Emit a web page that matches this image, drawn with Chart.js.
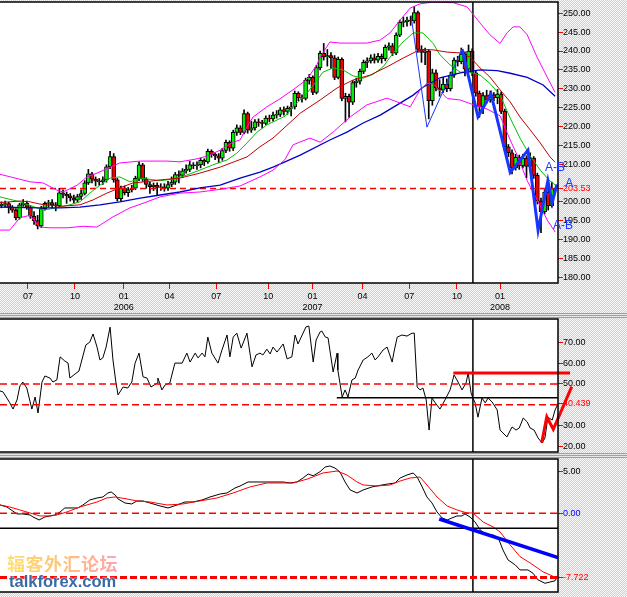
<!DOCTYPE html>
<html>
<head>
<meta charset="utf-8">
<script src="https://cdn.jsdelivr.net/npm/chart.js@4.4.1/dist/chart.umd.min.js"></script>
<style>
body{margin:0;width:627px;height:597px;overflow:hidden;position:relative;
  background-color:#eee;
  background-image:repeating-conic-gradient(#d0d0d0 0 25%,#f8f8f8 0 50%);
  background-size:2px 2px;}
canvas{position:absolute;left:0}
#c1{top:0}
#c2{top:317px}
#c3{top:457px}
.sep{position:absolute;left:0;width:627px;height:5px;
  background:repeating-linear-gradient(#a0a0a0 0 1px,#e6e6e6 1px 2px);}
.wm1{position:absolute;left:7px;top:554px;font:bold 18px "Noto Sans CJK SC";letter-spacing:0.5px;line-height:1;
  background:linear-gradient(90deg,#ffe070,#ffc27a 50%,#ffa2b0);-webkit-background-clip:text;background-clip:text;color:transparent;}
.wm2{position:absolute;left:9px;top:573px;font:bold 16.5px Arial;line-height:1;color:#3a6aa6;
  text-shadow:0 0 2px #fff,0 0 2px #fff;}
</style>
</head>
<body>
<canvas id="c1" width="627" height="313"></canvas>
<div class="sep" style="top:313px"></div>
<canvas id="c2" width="627" height="136"></canvas>
<div class="sep" style="top:453px"></div>
<canvas id="c3" width="627" height="137"></canvas>
<div class="wm1">辐客外汇论坛</div>
<div class="wm2">talkforex.com</div>
<script>
// weekly candles, index 0 = mid May 2005
const opens = [
199.0,199.3,199.5,198.6,197.8,195.8,199.2,199.6,198.6,196.2,
195.0,193.6,198.2,199.6,199.8,199.2,199.0,202.4,202.0,201.6,
201.0,200.4,201.4,202.2,205.0,207.4,206.0,205.5,205.3,205.8,
209.3,212.0,205.8,200.8,203.6,202.4,203.2,203.6,206.2,209.8,
206.0,204.6,204.0,204.4,203.8,204.0,203.6,204.6,205.2,207.2,
207.0,208.2,208.6,209.8,209.6,209.8,211.0,210.6,213.4,212.6,
212.2,211.6,213.6,215.8,214.2,218.4,219.6,218.4,223.4,219.0,
219.6,221.2,221.0,220.8,222.2,222.0,223.0,223.2,224.4,224.0,
224.8,225.2,228.8,227.6,227.4,232.2,233.0,229.0,235.6,239.4,
238.4,238.8,238.2,233.0,237.8,227.4,228.0,226.4,231.6,232.0,
234.6,237.0,237.4,238.2,237.6,238.6,238.0,241.0,241.4,239.4,
244.2,247.6,247.8,248.2,248.0,250.2,240.4,239.6,240.0,226.8,
234.2,230.2,229.6,231.2,230.0,233.6,237.6,237.2,239.2,235.2,
240.0,234.2,228.8,225.2,228.2,227.0,228.4,227.6,228.6,224.0,
214.6,213.0,209.0,211.8,209.6,211.6,209.4,211.6,207.0,200.2,
197.4,202.6,199.0];
const highs = [
200.0,200.2,199.9,199.0,198.2,199.6,200.6,200.2,199.0,197.4,
196.4,198.8,200.0,200.4,200.6,199.8,203.6,203.2,202.6,202.2,
201.8,202.0,203.2,205.6,208.6,207.8,206.6,206.2,206.6,209.8,
213.4,212.8,206.2,204.2,204.2,203.8,204.4,206.8,210.6,210.2,
206.4,205.2,205.0,205.0,204.8,204.8,205.4,206.6,207.8,208.2,
208.8,209.8,210.8,210.4,210.6,211.6,211.4,214.0,213.8,213.0,
212.8,214.2,216.4,216.2,219.0,220.4,220.2,224.4,223.8,221.4,
221.8,222.0,221.6,222.8,223.0,223.8,224.2,225.0,225.2,225.4,
226.4,229.4,229.2,228.4,232.8,233.8,233.4,236.2,240.0,242.0,
240.4,239.6,238.8,238.4,238.2,228.8,228.6,232.2,232.8,235.2,
237.6,238.2,239.0,239.2,239.4,239.2,241.6,242.2,242.0,244.8,
248.2,249.0,249.0,249.2,251.8,250.6,241.4,240.8,240.4,235.2,
235.0,232.4,233.0,232.6,234.4,238.2,238.6,240.8,239.8,241.6,
240.6,234.8,229.4,229.0,229.6,229.4,229.0,229.8,229.2,224.6,
215.2,213.8,212.6,212.4,212.6,212.2,213.0,212.0,207.6,201.0,
203.2,203.4,205.2];
const lows = [
198.4,198.6,197.0,197.2,195.2,195.4,198.8,198.0,195.6,194.0,
192.8,193.2,197.8,198.6,198.4,197.6,198.6,201.0,199.6,200.2,
199.8,199.8,200.6,201.8,204.6,205.0,204.2,204.4,204.6,205.2,
208.8,205.2,200.2,200.2,201.8,201.4,202.6,203.2,205.6,205.4,
203.6,202.2,203.0,201.8,203.0,202.8,203.0,204.0,204.6,205.0,
206.4,207.6,208.0,208.8,208.6,209.0,209.6,210.2,211.8,211.2,
210.4,211.0,213.0,213.4,213.6,217.6,217.8,218.0,218.2,218.4,
219.0,220.0,219.6,220.4,221.2,221.4,222.2,222.6,223.0,223.2,
222.8,224.6,226.8,226.4,227.0,231.2,228.4,228.6,235.0,237.6,
236.0,235.4,232.4,232.6,226.8,221.2,222.4,225.8,230.4,231.2,
234.0,235.6,236.8,236.8,237.0,236.8,237.4,240.2,238.8,239.0,
243.8,246.4,246.6,246.8,247.4,239.6,237.0,236.4,222.0,225.6,
229.4,228.0,229.0,229.2,229.4,233.0,236.0,236.6,233.4,234.6,
233.4,228.0,222.4,223.4,226.2,226.4,226.8,226.0,223.4,214.0,
212.0,207.4,208.4,208.6,209.0,206.4,208.8,206.2,199.4,191.8,
196.8,197.8,198.6];
const closes = [
199.3,199.5,198.6,197.8,195.8,199.2,199.6,198.6,196.2,195.0,
193.6,198.2,199.6,199.8,199.2,199.0,202.4,202.0,201.6,201.0,
200.4,201.4,202.2,205.0,207.4,206.0,205.5,205.3,205.8,209.3,
212.0,205.8,200.8,203.6,202.4,203.2,203.6,206.2,209.8,206.0,
204.6,204.0,204.4,203.8,204.0,203.6,204.6,205.2,207.2,207.0,
208.2,208.6,209.8,209.6,209.8,211.0,210.6,213.4,212.6,212.2,
211.6,213.6,215.8,214.2,218.4,219.6,218.4,223.4,219.0,219.6,
221.2,221.0,220.8,222.2,222.0,223.0,223.2,224.4,224.0,224.8,
225.2,228.8,227.6,227.4,232.2,233.0,229.0,235.6,239.4,238.4,
238.8,238.2,233.0,237.8,227.4,228.0,226.4,231.6,232.0,234.6,
237.0,237.4,238.2,237.6,238.6,238.0,241.0,241.4,239.4,244.2,
247.6,247.8,248.2,248.0,250.2,240.4,239.6,240.0,226.8,234.2,
230.2,229.6,231.2,230.0,233.6,237.6,237.2,239.2,235.2,240.0,
234.2,228.8,225.2,228.2,227.0,228.4,227.6,228.6,224.0,214.6,
213.0,209.0,211.8,209.6,211.6,209.4,211.6,207.0,200.2,197.4,
202.6,199.0,203.5];
const lastPrice = 203.53;

// x axis labels (bar index of first bar in the quarter)
const tickPos  = [7.3, 20.3, 33.8, 46.4, 59.3, 73.7, 85.9, 99.7, 112.6, 125.8, 137.7];
const tickText = ['07','10','01','04','07','10','01','04','07','10','01'];
const tickYear = ['','','2006','','','','2007','','','','2008'];

// moving averages and bands (bar index, price)
const greenAt  = [-0.4,5.1,11.5,15.3,18.9,21.7,24.4,27.2,30.0,32.7,35.5,38.3,43.8,47.4,51.2,54.8,58.4,62.3,65.0,67.8,70.6,73.3,76.1,78.3,80.5,84.4,87.2,88.8,91.6,94.3,97.1,99.9,102.6,105.4,108.2,110.9,113.7,116.4,119.2,121.1,123.9,126.7,129.4,132.2,134.9,137.7,140.5,143.2,146.0,148.8,151.5,152.9];
const greenVal = [201.3,200.0,197.8,198.4,199.2,200.0,202.3,204.4,206.3,206.6,205.3,206.3,205.6,206.0,207.1,208.4,209.8,211.1,212.9,215.6,218.5,220.4,221.7,222.7,225.1,228.8,232.3,234.4,235.5,235.0,233.4,232.8,233.8,235.8,239.5,242.4,244.8,244.8,242.0,239.0,236.3,234.4,234.4,233.6,231.4,228.3,222.2,216.9,212.2,208.4,205.5,204.5];
const redAt  = [-0.4,2.3,5.1,7.9,10.6,16.2,21.7,25.3,29.1,32.7,36.3,39.6,43.8,49.3,54.8,60.4,67.8,71.4,75.0,78.3,82.5,88.0,92.7,97.1,101.8,106.5,110.9,115.6,119.2,123.1,126.7,129.4,132.2,134.9,137.7,140.5,143.2,146.0,148.8,151.5,152.9];
const redVal = [199.8,200.0,200.2,200.0,199.4,198.8,199.2,200.5,202.3,203.7,205.0,205.3,205.8,206.3,207.6,209.2,211.9,214.6,216.9,219.8,223.5,227.0,230.2,232.3,233.6,235.8,238.1,240.4,240.3,239.7,239.5,238.4,235.5,233.1,229.7,226.5,222.5,219.1,215.6,211.9,210.5];
const blueAt  = [-0.4,10.6,16.2,21.7,27.2,32.7,38.3,43.8,49.3,54.8,60.4,65.9,71.4,75.0,78.3,82.5,90.7,95.4,99.9,104.6,109.3,113.7,116.4,121.1,126.7,132.2,136.9,140.5,145.2,149.6,152.9];
const blueVal = [198.6,198.4,198.4,198.6,199.2,200.0,201.0,201.8,202.6,203.7,204.4,206.3,207.9,209.2,210.6,212.4,216.4,218.5,220.9,223.0,225.7,228.3,230.4,232.9,234.2,235.0,234.8,234.1,233.0,231.0,228.0];
const upAt  = [-0.4,7.9,11.5,15.3,17.0,20.9,23.6,26.4,30.0,32.7,38.3,45.7,49.3,54.0,56.8,60.4,63.9,65.9,67.8,69.5,73.3,76.9,80.5,84.4,87.2,88.0,90.7,93.5,97.1,100.9,104.6,107.3,110.1,112.9,115.6,119.2,124.8,128.6,132.2,134.9,137.7,139.6,141.3,143.2,145.2,147.9,150.7,152.9];
const upVal = [207.3,205.3,205.0,203.1,202.6,204.4,206.6,207.6,209.2,210.3,210.8,210.8,210.6,211.4,212.1,213.7,215.8,216.4,219.9,222.5,225.2,227.3,229.7,232.5,236.5,238.4,242.4,242.1,242.1,242.1,242.9,244.8,248.2,251.4,252.5,253.0,252.8,251.7,247.4,244.3,242.0,244.8,246.4,246.4,244.3,238.4,233.1,229.0];
const loAt  = [-0.4,2.3,5.1,7.9,10.6,13.4,18.1,22.5,26.4,30.8,35.5,39.1,43.8,49.3,54.8,60.4,65.9,71.4,75.0,78.3,80.5,85.2,88.0,91.6,96.3,100.9,106.5,110.1,112.9,115.6,117.5,119.2,123.1,126.7,130.2,134.1,137.7,140.5,142.4,145.2,147.9,150.7,152.9];
const loVal = [192.5,192.5,195.8,196.4,193.3,193.1,193.1,193.5,193.3,196.0,198.4,199.6,201.3,202.3,202.6,203.3,204.2,206.6,208.4,211.2,215.1,216.9,215.8,218.5,222.5,225.7,227.5,226.2,225.2,229.7,231.4,231.3,227.4,227.0,225.8,224.6,222.8,216.4,212.4,205.6,200.6,195.2,192.0];

// swing lines drawn on the price panel
const swingThinAt  = [113.1, 117.5, 127.2];
const swingThinVal = [249.5, 219.8, 240.5];
const swingAt  = [127.2, 131.6, 135.2, 140.5, 145.4, 148.2, 150.9, 152.1, 153.4];
const swingVal = [240.5, 222.6, 228.6, 207.8, 213.7, 192.4, 205.6, 199.8, 204.6];
const abText = ['A-B', 'A', 'A-B'];
const abAt   = [150.1, 155.7, 152.3];
const abVal  = [209.0, 204.7, 193.6];
const cursorAt = 130.2;

// RSI panel
const rsiAt = [-0.4,0.4,1.5,2.3,3.2,4.3,5.1,5.9,7.0,8.4,9.3,10.1,11.2,12.0,13.4,14.2,15.3,16.2,17.5,18.4,18.9,20.3,21.4,23.3,24.4,25.3,26.4,27.2,28.0,28.9,30.0,30.8,31.6,32.2,33.6,34.9,36.0,36.9,38.0,39.1,40.2,41.3,43.0,43.2,44.3,45.2,46.5,47.9,49.9,51.2,52.1,53.5,54.3,55.4,56.2,57.0,58.1,59.8,60.9,62.3,63.1,64.0,65.0,66.2,67.8,69.2,70.3,71.4,72.2,73.3,74.2,75.0,76.1,77.8,78.9,80.2,81.1,81.9,84.1,84.9,86.1,86.9,88.0,88.5,89.4,90.2,91.6,92.7,92.9,94.1,94.9,95.7,96.8,97.7,98.5,99.9,101.2,102.3,103.2,104.0,105.4,106.5,107.9,108.4,109.3,110.6,112.0,113.4,114.0,114.8,115.6,116.4,117.3,118.1,118.9,119.8,121.1,122.5,123.9,125.0,125.8,127.2,128.3,128.9,129.7,130.2,130.8,131.6,132.7,133.6,134.4,135.5,136.9,137.7,139.6,141.0,142.1,143.0,144.1,145.2,146.0,147.1,148.2,149.3,150.1,150.9,152.1,152.9,153.7];
const rsiVal = [46.6,46.2,43.2,40.9,37.9,42.3,49.0,50.9,48.0,37.9,43.7,36.0,50.9,53.8,52.8,50.9,51.9,63.0,61.0,60.0,52.8,54.7,56.2,68.7,70.1,74.0,67.7,61.5,62.5,67.7,77.3,61.5,50.9,44.7,48.5,48.0,50.9,60.0,64.8,53.4,52.8,48.5,50.4,52.8,47.1,49.5,50.4,60.0,60.0,64.8,60.5,64.8,62.5,64.8,63.0,72.5,64.8,60.0,66.3,73.5,63.0,72.5,74.4,67.2,74.4,58.2,63.9,64.8,63.9,66.7,64.4,67.7,65.3,69.2,62.0,63.0,73.5,69.2,77.4,77.8,60.5,71.1,75.0,75.4,72.6,72.1,55.7,64.8,56.7,43.7,47.1,43.7,51.9,52.8,56.7,61.5,63.0,64.8,61.5,63.0,66.3,67.7,60.5,65.3,72.5,73.5,73.0,74.4,74.4,48.5,47.1,48.0,42.3,27.8,43.2,40.9,37.9,42.3,47.1,54.3,51.9,47.1,50.4,55.2,45.6,43.2,40.9,34.0,43.2,40.9,43.2,41.3,37.5,27.8,24.5,29.3,27.8,28.8,33.6,31.7,28.8,27.8,24.0,21.6,24.0,34.0,32.6,37.5,40.4];
const rsiNow = 40.439;
const rsiTicks = [20, 30, rsiNow, 50, 60, 70];

// MACD panel
const macdAt = [-0.4,1.5,4.3,5.9,7.9,8.7,10.4,12.0,13.4,14.8,16.2,17.5,21.1,22.5,24.4,26.4,28.0,29.4,30.3,31.4,32.2,34.1,36.0,37.4,39.1,41.0,43.8,46.0,48.5,50.7,52.9,55.4,57.6,60.4,62.3,64.5,65.9,68.1,70.6,73.3,76.1,77.8,79.7,81.6,83.3,84.7,86.1,88.0,89.4,90.7,92.1,93.5,94.9,96.3,98.2,99.9,102.3,105.1,106.8,108.7,110.1,112.0,113.7,114.8,116.2,117.5,118.9,120.3,121.7,123.1,124.4,125.8,127.2,128.0,129.4,130.8,132.2,134.1,135.8,137.2,138.5,139.9,141.9,143.2,145.4,146.8,148.2,150.1,151.5,152.9,153.5];
const macdVal = [1.0,0.76,-0.08,-0.08,-0.2,-0.44,-0.8,-0.44,-0.32,-0.2,0.16,0.64,0.64,1.0,1.6,1.84,1.96,2.44,2.56,2.2,1.72,1.24,1.12,1.48,1.48,1.24,0.88,0.64,1.0,1.36,1.36,1.6,1.96,2.32,2.44,3.04,3.28,3.76,3.76,3.76,3.76,3.76,3.64,3.76,4.24,4.72,4.5,5.0,5.56,5.68,5.44,4.96,3.76,2.8,2.44,2.8,3.16,3.4,3.52,3.64,4.24,4.6,4.84,4.36,3.16,1.96,1.24,0.16,-0.56,-0.8,-0.56,-0.32,-0.32,-0.08,-0.44,-1.04,-2.0,-2.6,-2.6,-2.97,-4.4,-5.6,-6.2,-6.8,-6.8,-7.2,-8.0,-8.4,-8.25,-8.1,-7.6];
const sigAt = [-0.4,2.3,5.1,7.9,10.6,13.4,15.3,18.1,21.7,26.4,29.1,31.4,34.7,37.4,41.0,45.7,50.1,54.8,59.5,64.0,68.6,73.3,77.8,80.5,84.4,88.8,92.7,95.4,98.2,99.9,103.7,107.3,110.1,112.9,115.6,117.5,120.3,123.1,125.8,128.6,130.2,133.0,135.8,137.7,140.5,143.2,146.0,149.6,151.5,153.5];
const sigVal = [1.0,0.76,0.4,0.04,-0.32,-0.32,-0.2,0.16,0.76,1.36,1.84,1.96,1.72,1.48,1.36,1.0,1.12,1.48,1.84,2.44,3.16,3.64,3.64,3.64,4.1,4.84,5.08,4.6,3.76,3.4,3.28,3.4,3.88,4.24,4.36,3.4,1.96,0.88,0.4,0.04,0.04,-1.04,-1.64,-2.24,-3.8,-5.2,-5.96,-7.04,-7.4,-7.8];
const macdNow = -7.722;
const macdTicks = [macdNow, 0, 5];

const xMin = -0.4, xMax = 153.7;

Chart.defaults.font.family = 'Arial';
Chart.defaults.font.size = 9;
Chart.defaults.color = '#000';

function pts(xs, ys) { return xs.map((x, i) => ({x: x, y: ys[i]})); }
function seg(x0, x1, y0, y1) { return [{x: x0, y: y0}, {x: x1, y: y1}]; }
function line(data, color, width, extra) {
  return Object.assign({type: 'line', data: data, borderColor: color, borderWidth: width,
    pointRadius: 0, tension: 0, fill: false, order: 1}, extra || {});
}

function xScale(show) {
  return {
    type: 'linear', min: xMin, max: xMax, offset: false, display: show,
    afterBuildTicks: s => { s.ticks = tickPos.map(v => ({value: v})); },
    afterFit: s => { s.height = show ? 30 : 0; s.paddingLeft = 0; s.paddingRight = 0; },
    grid: {drawOnChartArea: false, offset: false, color: '#ff0000', tickLength: 6, lineWidth: 1},
    border: {display: false},
    ticks: {autoSkip: false, maxRotation: 0, padding: 2,
      callback: (v, i) => tickYear[i] ? [tickText[i], tickYear[i]] : tickText[i]}
  };
}

function yScale(min, max, ticks, label, color) {
  return {
    position: 'right', min: min, max: max,
    afterBuildTicks: s => { s.ticks = ticks.map(v => ({value: v})); },
    afterFit: s => { s.width = 69; s.paddingTop = 0; s.paddingBottom = 0; },
    grid: {drawOnChartArea: false, offset: false, color: '#ff0000', tickLength: 5},
    border: {display: false},
    ticks: {autoSkip: false, padding: 0, callback: label, color: color}
  };
}

// white plot area and black frame
const frame = {
  id: 'frame',
  beforeDraw(chart) {
    const a = chart.chartArea, c = chart.ctx;
    c.save();
    c.fillStyle = '#fff';
    c.fillRect(a.left, a.top, a.right - a.left, a.bottom - a.top);
    c.restore();
  },
  afterDraw(chart) {
    const a = chart.chartArea, c = chart.ctx;
    c.save();
    c.strokeStyle = '#000';
    c.lineWidth = 1.5;
    c.beginPath();
    c.moveTo(0, a.top); c.lineTo(a.right, a.top); c.lineTo(a.right, a.bottom); c.lineTo(0, a.bottom);
    c.stroke();
    c.restore();
  }
};

const abLabels = {
  id: 'ab',
  afterDraw(chart) {
    const c = chart.ctx, x = chart.scales.x, y = chart.scales.y;
    c.save();
    c.fillStyle = '#1836ff';
    c.font = '12px Arial';
    c.textBaseline = 'middle';
    abText.forEach((t, i) => c.fillText(t, x.getPixelForValue(abAt[i]), y.getPixelForValue(abVal[i])));
    c.restore();
  }
};

const base = {
  responsive: false, animation: false, events: [],
  plugins: {legend: {display: false}, tooltip: {enabled: false}}
};

// price panel
const pMin = 178.46, pMax = 253.0;
const priceTicks = [180,185,190,195,200,lastPrice,210,215,220,225,230,235,240,245,250];
new Chart(document.getElementById('c1'), {
  type: 'bar',
  data: {datasets: [
    {type: 'bar', data: closes.map((c, i) => ({x: i, y: [lows[i], highs[i]]})),
      backgroundColor: '#000', barThickness: 1, grouped: false, order: 11},
    {type: 'bar', data: closes.map((c, i) => ({x: i, y: [opens[i], c]})),
      backgroundColor: closes.map((c, i) => c >= opens[i] ? '#00f000' : '#f00000'),
      borderColor: '#000', borderWidth: 1, borderSkipped: false, barThickness: 4, grouped: false, order: 10},
    line(pts(upAt, upVal), '#ff00ff', 1),
    line(pts(loAt, loVal), '#ff00ff', 1),
    line(pts(blueAt, blueVal), '#0000c8', 1.3),
    line(pts(redAt, redVal), '#c00000', 1),
    line(pts(greenAt, greenVal), '#00c000', 1),
    line(seg(xMin, xMax, lastPrice, lastPrice), '#ff0000', 1.5, {borderDash: [6, 4]}),
    line(seg(cursorAt, cursorAt, pMin, pMax), '#000', 1.5),
    line(pts(swingThinAt, swingThinVal), '#1836ff', 1, {order: 0}),
    line(pts(swingAt, swingVal), '#1836ff', 3, {order: 0})
  ]},
  options: Object.assign({}, base, {
    layout: {padding: {top: 2, left: 0, right: 0, bottom: 0}},
    scales: {
      x: xScale(true),
      y: yScale(pMin, pMax, priceTicks, v => v === lastPrice ? lastPrice.toFixed(2) : v.toFixed(2),
        ctx => ctx.tick && ctx.tick.value === lastPrice ? '#ff0000' : '#000')
    }
  }),
  plugins: [frame, abLabels]
});

// RSI panel
const rMin = 17.26, rMax = 81.2;
new Chart(document.getElementById('c2'), {
  type: 'line',
  data: {datasets: [
    line(seg(xMin, xMax, 50, 50), '#ff0000', 1.5, {borderDash: [7, 4]}),
    line(seg(xMin, xMax, 40, 40), '#ff0000', 1.5, {borderDash: [7, 4]}),
    line(pts(rsiAt, rsiVal), '#000', 1),
    line(seg(92.6, xMax, 43.3, 43.3), '#000', 1.5),
    line(seg(124.8, 157.0, 55.2, 55.2), '#ff0000', 3, {clip: false, order: 0}),
    line(pts([149.2, 150.6, 152.4, 157.5], [21.7, 34.2, 28.2, 48.7]), '#ff0000', 3, {clip: false, order: 0}),
    line(seg(cursorAt, cursorAt, rMin, rMax), '#000', 1.5)
  ]},
  options: Object.assign({}, base, {
    layout: {padding: {top: 2, left: 0, right: 0, bottom: 1}},
    scales: {
      x: xScale(false),
      y: yScale(rMin, rMax, rsiTicks, v => v === rsiNow ? '40.439' : v.toFixed(2),
        ctx => ctx.tick && ctx.tick.value === rsiNow ? '#ff0000' : '#000')
    }
  }),
  plugins: [frame]
});

// MACD panel
const mMin = -9.45, mMax = 6.52;
new Chart(document.getElementById('c3'), {
  type: 'line',
  data: {datasets: [
    line(seg(xMin, xMax, 0, 0), '#ff0000', 1.5, {borderDash: [7, 4]}),
    line(seg(xMin, xMax, macdNow, macdNow), '#ff0000', 3, {borderDash: [7, 3]}),
    line(seg(xMin, xMax, -1.8, -1.8), '#000', 1.5),
    line(pts(sigAt, sigVal), '#ff0000', 1),
    line(pts(macdAt, macdVal), '#000', 1),
    line(seg(120.9, xMax, -0.68, -5.33), '#0000ff', 3.5, {order: 0}),
    line(seg(cursorAt, cursorAt, mMin, mMax), '#000', 1.5)
  ]},
  options: Object.assign({}, base, {
    layout: {padding: {top: 2, left: 0, right: 0, bottom: 2}},
    scales: {
      x: xScale(false),
      y: yScale(mMin, mMax, macdTicks, v => v === macdNow ? '-7.722' : v.toFixed(2),
        ctx => !ctx.tick ? '#000' : ctx.tick.value === macdNow ? '#ff0000' : ctx.tick.value === 0 ? '#0000ff' : '#000')
    }
  }),
  plugins: [frame]
});
</script>
</body>
</html>
